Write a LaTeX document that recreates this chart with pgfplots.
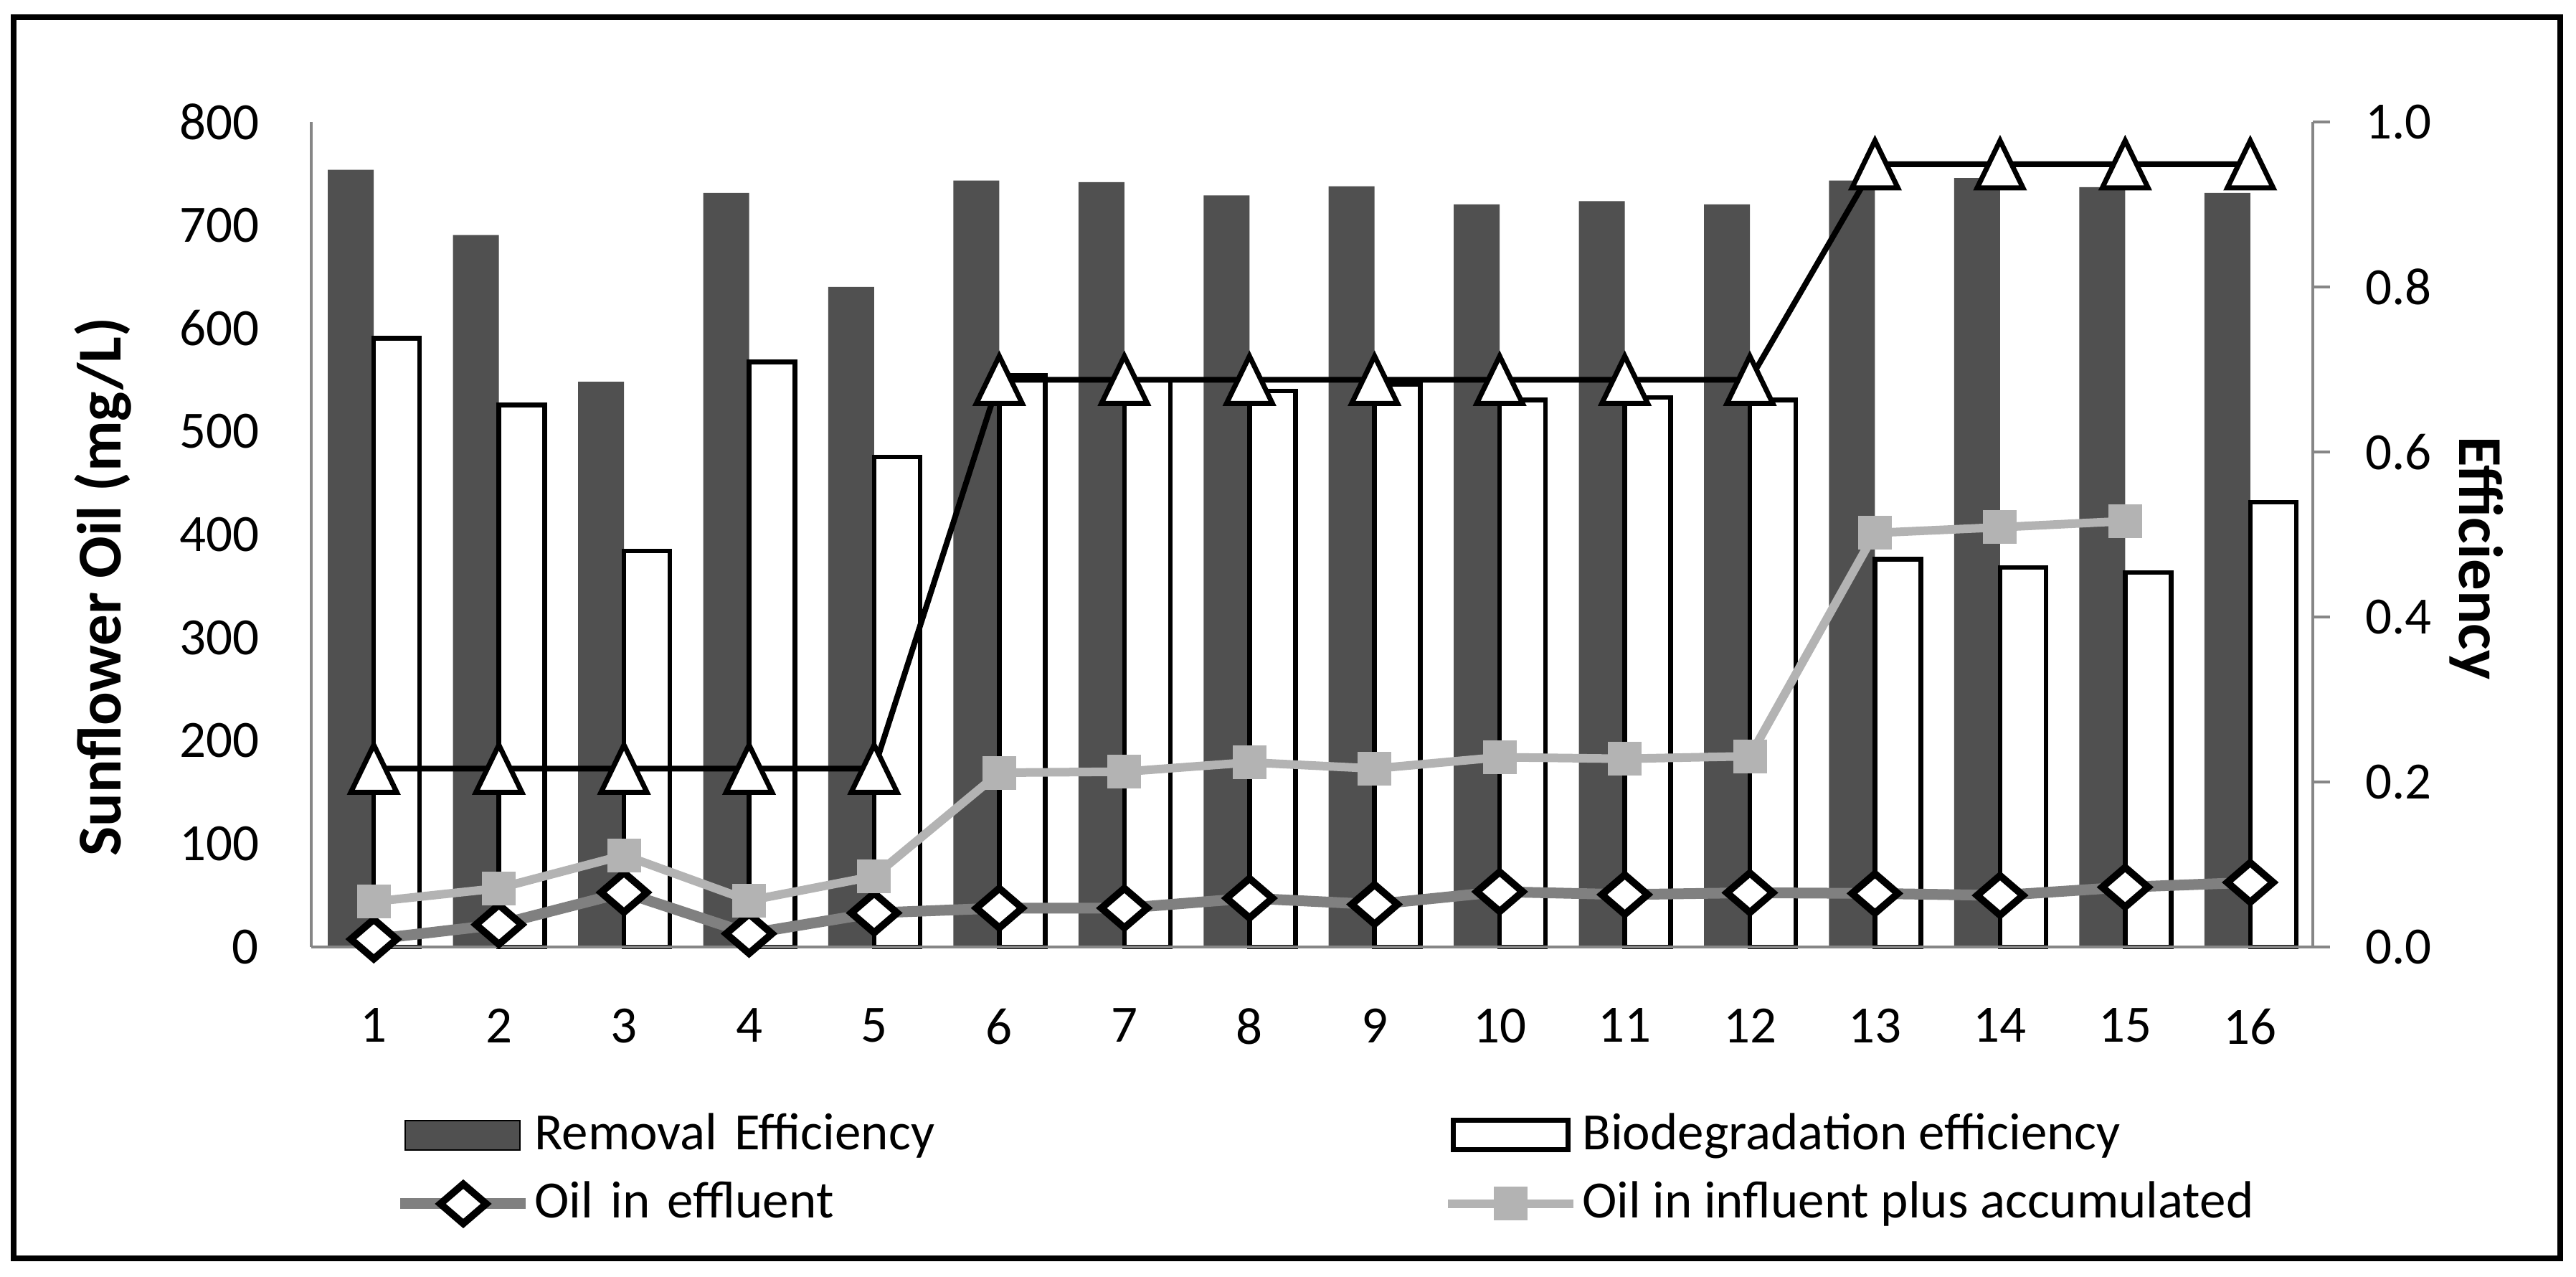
\documentclass[border=0pt]{standalone}
\usepackage{pgfplots}
\pgfplotsset{compat=1.18}
\usepackage{fontspec}
\setmainfont{Carlito}

\definecolor{barDark}{RGB}{80,80,80}
\definecolor{effgray}{RGB}{128,128,128}
\definecolor{infgray}{RGB}{179,179,179}
\definecolor{axisgray}{RGB}{134,134,134}

\newcommand{\tickfont}{\fontsize{14.6}{17.5}\selectfont}
\newcommand{\titlefont}{\fontsize{17.4}{21}\selectfont\bfseries}

% 1 px of the reference = 0.2pt
\pgfplotsset{
  lineleg/.style={legend image code/.code={
      \path[draw=none, fill=none] (0pt,-7pt) rectangle (37.4pt,7pt);
      \draw[mark repeat=2,mark phase=2,##1] plot coordinates {(0pt,0pt) (17.5pt,0pt) (35pt,0pt)};}},
  barleg/.style={legend image code/.code={
      \path[draw=none, fill=none] (0pt,-7pt) rectangle (37.4pt,7pt);
      \draw[##1] (1.4pt,-4.1pt) rectangle (33.4pt,4.1pt);}},
  frameaxis/.style={
    at={(86.8pt,92pt)}, anchor=south west,
    width=558.2pt, height=230pt, scale only axis,
    xmin=0.5, xmax=16.5, clip=false},
}

\begin{document}
\begin{tikzpicture}
\path[use as bounding box] (0pt,0pt) rectangle (718.4pt,356pt);
\draw[line width=1.6pt] (3.8pt,5.2pt) rectangle (714pt,351.2pt);

% efficiency bars, right axis
\begin{axis}[frameaxis,
  ymin=0, ymax=1,
  axis x line=none,
  axis y line*=right,
  y axis line style={draw=axisgray, line width=0.9pt},
  ytick={0,0.2,0.4,0.6,0.8,1},
  yticklabels={0.0,0.2,0.4,0.6,0.8,1.0},
  ytick style={draw=axisgray, line width=0.9pt},
  tick align=outside, major tick length=4.8pt,
  yticklabel style={font=\tickfont, anchor=west, inner sep=0pt, xshift=9.6pt},
  ybar=0pt, bar width=12.8pt,
]
\addplot[fill=barDark, draw=none] coordinates {
  (1,0.942) (2,0.863) (3,0.685) (4,0.914) (5,0.800) (6,0.929) (7,0.927) (8,0.911)
  (9,0.922) (10,0.900) (11,0.904) (12,0.900) (13,0.929) (14,0.932) (15,0.921) (16,0.914)};
\addplot[fill=white, draw=black, line width=1.3pt] coordinates {
  (1,0.738) (2,0.657) (3,0.480) (4,0.709) (5,0.594) (6,0.693) (7,0.688) (8,0.674)
  (9,0.682) (10,0.663) (11,0.666) (12,0.663) (13,0.470) (14,0.460) (15,0.454) (16,0.539)};
\end{axis}

% oil concentrations, left axis
\begin{axis}[frameaxis,
  ymin=0, ymax=800,
  axis x line*=bottom, axis y line*=left,
  axis line style={draw=axisgray, line width=0.9pt},
  xtick={1,...,16}, ytick={0,100,...,800},
  major tick length=0pt, tick style={draw=none},
  /pgf/number format/assume math mode=true,
  xticklabel style={font=\tickfont, anchor=north, inner sep=0pt, yshift=-17pt},
  yticklabel style={font=\tickfont, anchor=east, inner sep=0pt, xshift=-14.4pt},
  legend columns=2,
  legend cell align=left,
  legend style={at={(0.04192,-0.1974)}, anchor=north west, draw=none, fill=none,
    inner sep=0pt, outer sep=0pt, row sep=5.2pt, column sep=0pt, font=\tickfont,
    nodes={inner sep=0pt, text height=10.2pt, text depth=2.2pt},
    /tikz/column 2/.style={text width=253.6pt}},
]
\addlegendimage{barleg, fill=barDark, draw=none}
\addlegendentry{Removal Efficiency}
\addlegendimage{barleg, fill=white, draw=black, line width=1.3pt}
\addlegendentry{Biodegradation efficiency}

\addplot[forget plot, black, line width=1.6pt, mark=triangle*, mark size=8.8pt,
  mark options={fill=white, draw=black, line width=1.4pt, xscale=0.84, yshift=-2.2pt}] coordinates {
  (1,173) (2,173) (3,173) (4,173) (5,173) (6,550) (7,550) (8,550)
  (9,550) (10,550) (11,550) (12,550) (13,759) (14,759) (15,759) (16,759)};

\addplot[lineleg, color=effgray, line width=3pt, mark=diamond*, mark size=5.5pt,
  mark options={fill=white, draw=black, line width=2pt, xscale=1.55}] coordinates {
  (1,7.6) (2,21.7) (3,52.9) (4,12.9) (5,33) (6,37.7) (7,37.7) (8,47.3)
  (9,41.3) (10,53.6) (11,50.8) (12,52.6) (13,51.9) (14,50) (15,58) (16,62.6)};
\addlegendentry{Oil in effluent}

\addplot[lineleg, color=infgray, line width=2.4pt, mark=square*, mark size=4.6pt,
  mark options={fill=infgray, draw=infgray, line width=0pt}] coordinates {
  (1,44) (2,57) (3,89) (4,45) (5,68.6) (6,169) (7,170) (8,179)
  (9,173) (10,184) (11,182.5) (12,185) (13,401.5) (14,407) (15,413)};
\addlegendentry{Oil in influent plus accumulated}
\end{axis}

\node[rotate=90, anchor=base, font=\titlefont] at (33.6pt,192.4pt) {Sunflower Oil (mg/L)};
\node[rotate=-90, anchor=base, font=\titlefont] at (685.8pt,200.4pt) {Efficiency};
\end{tikzpicture}
\end{document}
